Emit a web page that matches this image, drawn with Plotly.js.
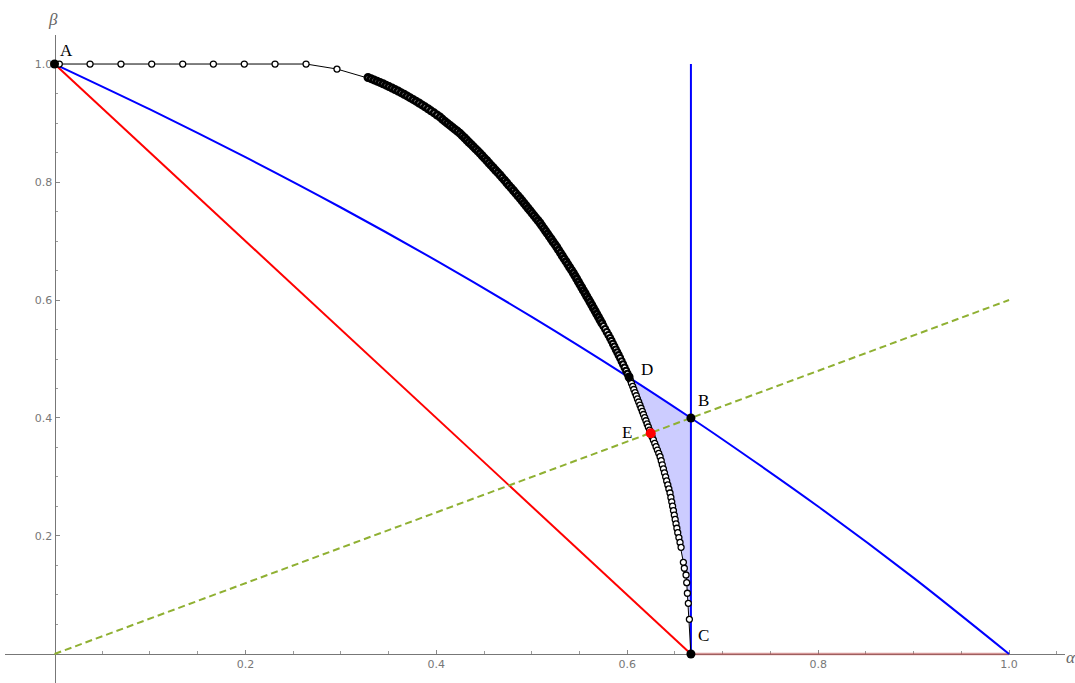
<!DOCTYPE html>
<html>
<head>
<meta charset="utf-8">
<script src="https://cdn.plot.ly/plotly-3.0.1.min.js"></script>
<style>html,body{margin:0;padding:0;background:#fff;}#chart{width:1075px;height:683px;}</style>
</head>
<body>
<div id="chart"></div>
<script>
// ---- data ----
const curveX = [
0.0050,0.0372,0.0696,0.1018,0.1343,0.1664,0.1988,0.2310,0.2635,0.2959,
0.3284,0.3316,0.3347,0.3379,0.3410,0.3442,0.3473,0.3504,0.3536,0.3567,0.3599,0.3630,0.3662,
0.3693,0.3724,0.3756,0.3787,0.3819,0.3850,0.3882,0.3913,0.3944,0.3976,0.4007,0.4039,
0.4065,0.4091,0.4117,0.4144,0.4170,0.4196,0.4222,0.4248,
0.4271,0.4295,0.4318,0.4341,0.4365,0.4388,0.4411,0.4435,0.4458,
0.4481,0.4504,0.4528,0.4551,0.4574,0.4597,0.4620,0.4644,0.4667,
0.4690,0.4714,0.4737,0.4760,0.4784,0.4807,0.4830,0.4854,0.4877,
0.4898,0.4919,0.4940,0.4961,0.4982,0.5002,0.5023,0.5044,0.5065,0.5086,
0.5105,0.5125,0.5144,0.5164,0.5183,0.5203,0.5222,0.5242,0.5261,
0.5280,0.5300,0.5319,0.5338,0.5358,0.5377,0.5396,0.5416,0.5435,
0.5453,0.5470,0.5488,0.5505,0.5523,0.5540,0.5558,0.5575,0.5593,0.5610,
0.5628,0.5645,0.5663,0.5680,0.5698,0.5715,
0.5733,0.5750,0.5768,0.5785,0.5803,0.5820,
0.5835,0.5850,0.5865,0.5880,0.5895,0.5910,0.5925,
0.5941,0.5956,0.5972,0.5988,0.6003,0.6019,
0.6032,0.6044,0.6057,0.6069,0.6082,0.6095,0.6107,0.6120,0.6133,0.6145,0.6158,0.6170,0.6183,0.6196,0.6208,0.6221,0.6234,0.6246,
0.6260,0.6274,0.6288,0.6302,0.6316,0.6330,0.6344,
0.6356,0.6367,0.6379,0.6390,0.6402,0.6413,0.6425,0.6436,0.6448,
0.6457,0.6466,0.6475,0.6484,0.6493,0.6502,0.6511,0.6520,0.6529,
0.6541,0.6553,0.6564,
0.6588,0.6598,0.6616,0.6623,0.6630,0.6640,0.6651,0.6667];
const curveY = [
1,1,1,1,1,1,1,1,1,0.9915,
0.9771,0.9752,0.9731,0.9710,0.9688,0.9665,0.9642,0.9618,0.9593,0.9568,0.9542,0.9515,0.9487,
0.9459,0.9430,0.9400,0.9370,0.9339,0.9307,0.9274,0.9241,0.9207,0.9172,0.9136,0.9100,
0.9062,0.9027,0.8993,0.8959,0.8926,0.8892,0.8859,0.8825,
0.8787,0.8750,0.8712,0.8674,0.8637,0.8599,0.8561,0.8524,0.8486,
0.8445,0.8404,0.8364,0.8323,0.8282,0.8241,0.8200,0.8160,0.8119,
0.8075,0.8031,0.7987,0.7943,0.7900,0.7856,0.7812,0.7768,0.7724,
0.7682,0.7640,0.7598,0.7556,0.7515,0.7473,0.7431,0.7389,0.7347,0.7305,
0.7260,0.7215,0.7169,0.7124,0.7079,0.7034,0.6988,0.6943,0.6898,
0.6849,0.6800,0.6751,0.6702,0.6654,0.6605,0.6556,0.6507,0.6458,
0.6409,0.6360,0.6310,0.6261,0.6212,0.6163,0.6114,0.6064,0.6015,0.5966,
0.5915,0.5864,0.5814,0.5763,0.5712,0.5661,
0.5610,0.5559,0.5508,0.5458,0.5407,0.5356,
0.5308,0.5259,0.5211,0.5162,0.5114,0.5065,0.5017,
0.4963,0.4910,0.4856,0.4802,0.4749,0.4695,
0.4642,0.4589,0.4536,0.4483,0.4430,0.4377,0.4324,0.4271,0.4218,0.4165,0.4112,0.4059,0.4006,0.3953,0.3900,0.3847,0.3794,0.3741,
0.3684,0.3628,0.3571,0.3514,0.3457,0.3401,0.3344,
0.3276,0.3207,0.3139,0.3071,0.3002,0.2934,0.2866,0.2797,0.2729,
0.2654,0.2579,0.2505,0.2430,0.2355,0.2280,0.2206,0.2131,0.2056,
0.1973,0.1891,0.1808,
0.1554,0.1453,0.1339,0.1208,0.1029,0.0859,0.0588,0];

const blueX = [0, 0.1, 0.2, 0.3, 0.4, 0.5, 0.6, 0.6667, 0.7, 0.8, 0.9, 1.0];
const blueY = [1, 0.9231, 0.8421, 0.7568, 0.6667, 0.5714, 0.4706, 0.4, 0.3636, 0.25, 0.1290, 0];
const vertX = [0.6667, 0.6667];
const vertY = [0, 1];
const redX = [0, 0.6667];
const redY = [1, 0];
const pinkX = [0.6667, 1.0];
const pinkY = [0, 0];
const greenX = [0, 1.0];
const greenY = [0, 0.6];

const ptsX = [0, 0.6667, 0.6667, 0.6019];
const ptsY = [1, 0.4, 0, 0.4695];
const ptsLabel = ['A', 'B', 'C', 'D'];
const eX = [0.6246];
const eY = [0.3741];
const eLabel = ['E'];

const xTickVals = [0.2, 0.4, 0.6, 0.8, 1.0];
const xTickText = ['0.2', '0.4', '0.6', '0.8', '1.0'];
const yTickVals = [0.2, 0.4, 0.6, 0.8, 1.0];
const yTickText = ['0.2', '0.4', '0.6', '0.8', '1.0'];
const minorTicks = [0.05,0.1,0.15,0.25,0.3,0.35,0.45,0.5,0.55,0.65,0.7,0.75,0.85,0.9,0.95,1.05];

// ---- build ----
const dIdx = curveX.indexOf(ptsX[3]);
const fillX = [ptsX[3], ptsX[1]].concat(curveX.slice(dIdx).reverse());
const fillY = [ptsY[3], ptsY[1]].concat(curveY.slice(dIdx).reverse());

// closely packed samples look like a solid band: draw them with heavier rings
const grp = curveY.map((v, i) => i < 10 ? 0 : (v > 0.56 ? 2 : (i <= dIdx ? 1 : 0)));
const pick = (arr, g) => arr.filter((v, i) => grp[i] === g);

const ringThin = {symbol: 'circle', size: 6, color: '#ffffff', line: {color: '#000000', width: 1.3}};
const ringMid = {symbol: 'circle', size: 6, color: '#ffffff', line: {color: '#000000', width: 2.1}};
const ringHeavy = {symbol: 'circle', size: 6, color: '#ffffff', line: {color: '#000000', width: 3}};

const traces = [
  {x: fillX, y: fillY, mode: 'lines', fill: 'toself', fillcolor: 'rgba(0,0,255,0.2)', line: {width: 0}, hoverinfo: 'skip'},
  {x: redX, y: redY, mode: 'lines', line: {color: '#ff0000', width: 2}},
  {x: pinkX, y: pinkY, mode: 'lines', line: {color: 'rgba(185,80,80,0.6)', width: 2.4}},
  {x: blueX, y: blueY, mode: 'lines', line: {color: '#0000ff', width: 2, shape: 'spline', smoothing: 0.8}},
  {x: vertX, y: vertY, mode: 'lines', line: {color: '#0000ff', width: 2}},
  {x: greenX, y: greenY, mode: 'lines', line: {color: '#8fb032', width: 2, dash: '7px,4px'}},
  {x: curveX, y: curveY, mode: 'lines', line: {color: '#000', width: 1}},
  {x: pick(curveX, 2), y: pick(curveY, 2), mode: 'markers', marker: ringHeavy},
  {x: pick(curveX, 1), y: pick(curveY, 1), mode: 'markers', marker: ringMid},
  {x: pick(curveX, 0), y: pick(curveY, 0), mode: 'markers', marker: ringThin},
  {x: ptsX, y: ptsY, mode: 'markers', marker: {size: 9, color: '#000'}},
  {x: eX, y: eY, mode: 'markers', marker: {size: 10, color: '#ff0000'}}
];

const lblFont = {family: 'Liberation Serif, serif', size: 17, color: '#000'};
const shifts = [[12, 14], [13, 17], [13, 18], [18, 7]];
const annotations = ptsLabel.map((t, i) => ({
  x: ptsX[i], y: ptsY[i], xref: 'x', yref: 'y', text: t, showarrow: false,
  xshift: shifts[i][0], yshift: shifts[i][1], font: lblFont
}));
annotations.push({x: eX[0], y: eY[0], xref: 'x', yref: 'y', text: eLabel[0], showarrow: false,
  xshift: -24, yshift: 1, font: lblFont});
annotations.push({x: 1, xref: 'paper', y: 0, yref: 'y', text: '<i>α</i>', showarrow: false,
  xanchor: 'left', xshift: -1, yshift: -4,
  font: {family: 'Liberation Serif, serif', size: 17, color: '#666'}});
annotations.push({x: 0, xref: 'x', y: 1, yref: 'paper', text: '<i>β</i>', showarrow: false,
  yanchor: 'bottom', yshift: 4, xshift: -2,
  font: {family: 'Liberation Serif, serif', size: 17, color: '#666'}});

const xr = [-0.0519, 1.0586];
const yr = [-0.0492, 1.0492];
const tickFont = {family: 'DejaVu Sans, sans-serif', size: 11, color: '#777'};

const layout = {
  width: 1075, height: 683,
  margin: {l: 5, r: 10, t: 35, b: 0},
  paper_bgcolor: '#fff', plot_bgcolor: '#fff',
  showlegend: false,
  xaxis: {
    range: xr, anchor: 'free', position: (0 - yr[0]) / (yr[1] - yr[0]),
    showgrid: false, zeroline: false, showline: true, linecolor: '#777', linewidth: 1,
    tickmode: 'array', tickvals: xTickVals, ticktext: xTickText,
    ticks: 'inside', ticklen: 4, tickcolor: '#888', tickwidth: 1,
    minor: {tickmode: 'array', tickvals: minorTicks, ticks: 'inside', ticklen: 2.5, tickcolor: '#999', showgrid: false},
    tickfont: tickFont, layer: 'below traces', fixedrange: true
  },
  yaxis: {
    range: yr, anchor: 'free', position: (0 - xr[0]) / (xr[1] - xr[0]),
    showgrid: false, zeroline: false, showline: true, linecolor: '#777', linewidth: 1,
    tickmode: 'array', tickvals: yTickVals, ticktext: yTickText,
    ticks: 'inside', ticklen: 4, tickcolor: '#888', tickwidth: 1,
    minor: {tickmode: 'array', tickvals: minorTicks, ticks: 'inside', ticklen: 2.5, tickcolor: '#999', showgrid: false},
    tickfont: tickFont, layer: 'below traces', fixedrange: true
  },
  annotations: annotations
};

Plotly.newPlot('chart', traces, layout, {displayModeBar: false, staticPlot: true});
</script>
</body>
</html>
